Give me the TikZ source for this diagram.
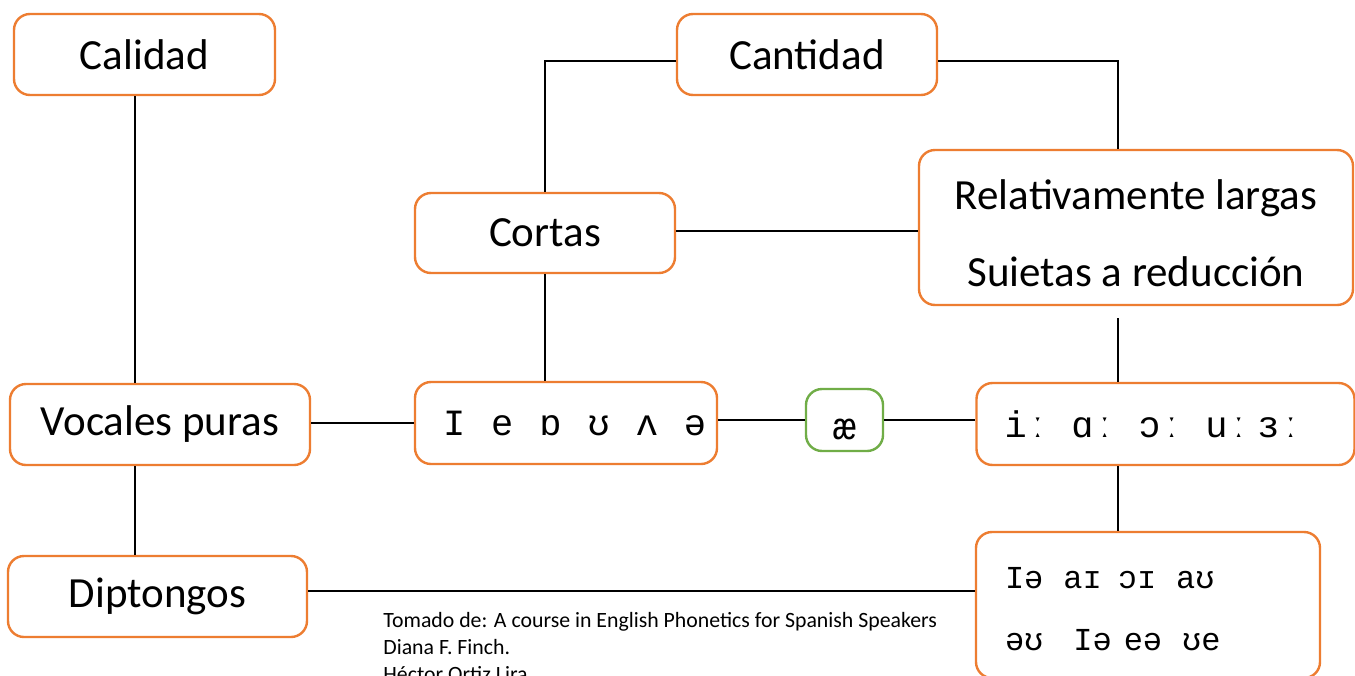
\documentclass[tikz,border=0pt]{standalone}
\usepackage{fontspec}
\setmainfont{Carlito}
\newfontfamily\ipafont{Liberation Mono}
\usetikzlibrary{positioning}

\definecolor{boxorange}{HTML}{ED7D31}
\definecolor{boxgreen}{HTML}{70AD47}

\tikzset{
  box/.style={draw=boxorange, line width=1.2pt, rounded corners=8pt, fill=white,
    font=\fontsize{21.5}{26}\selectfont, align=center, inner sep=0pt},
  ipabox/.style={box, font=\ipafont\fontsize{18.5}{22}\selectfont, align=left, inner xsep=14pt},
  link/.style={line width=1pt, black}
}
\newcommand{\gp}[1]{\hspace{#1pt}}

\begin{document}
\begin{tikzpicture}[x=0.5pt, y=-0.5pt]
    % Frame of the page
    \clip (0,0) rectangle (1355,675);
    \fill[white] (0,0) rectangle (1355,675);

    % Upper boxes
    \node[box, minimum width=130.5pt, minimum height=40.5pt] (calidad) at (144.5,54.5) {Calidad};
    \node[box, minimum width=130pt, minimum height=40.5pt] (cantidad) at (807,54.5) {Cantidad};
    \node[box, minimum width=130pt, minimum height=40pt] (cortas) at (545,233) {Cortas};
    \node[box, minimum width=217pt, minimum height=77.5pt] (largas) at (1136,227.5)
        {\raisebox{-10pt}[0pt][0pt]{\begin{tabular}{@{}c@{}}Relativamente largas\\[12.5pt]Suietas a reducción\end{tabular}}};

    % Middle row
    \node[box, minimum width=150pt, minimum height=40.5pt] (puras) at (160,424.5) {Vocales puras};
    \node[ipabox, text width=123pt, minimum height=41pt] (cortasipa) at (566,423)
        {\mbox{I\gp{13}e\gp{13}ɒ\gp{13}ʊ\gp{13}ʌ\gp{13}ə}};
    \node[box, draw=boxgreen, font=\ipafont\fontsize{19}{22}\selectfont,
        minimum width=38.5pt, minimum height=31pt] (ae) at (844.5,420) {\raisebox{-6pt}[7pt][0pt]{æ}};
    \node[ipabox, text width=161pt, minimum height=41pt] (largasipa) at (1165.5,424)
        {\mbox{iː\gp{11.3}ɑː\gp{11.3}ɔː\gp{11.3}uː\gp{3.8}ɜː}};

    % Bottom row
    \node[box, minimum width=149.5pt, minimum height=40.5pt] (diptongos) at (157.5,596.5) {Diptongos};
    \node[ipabox, font=\ipafont\fontsize{16}{19}\selectfont, text width=143pt, inner xsep=14.5pt,
        minimum height=73pt] (diptipa) at (1148,605)
        {\raisebox{-8pt}[0pt][0pt]{\begin{tabular}{@{}l@{}}Iə\gp{10}aɪ\gp{8}ɔɪ\gp{10}aʊ\\[12pt]əʊ\gp{15}Iə\gp{6}eə\gp{10}ʊe\end{tabular}}};

    % Spines for the vertical connectors
    \coordinate (lspine) at (135,0);
    \coordinate (rspine) at (1118,0);

    % Connectors
    \draw[link] (lspine |- calidad.south) -- (lspine |- puras.north);
    \draw[link] (lspine |- puras.south) -- (lspine |- diptongos.north);
    \draw[link] ([yshift=1pt]puras.east) -- ([yshift=1pt]puras.east -| cortasipa.west);
    \draw[link] (ae.west -| cortasipa.east) -- (ae.west);
    \draw[link] (ae.east) -- (ae.east -| largasipa.west);
    \draw[link] (cortas.south) -- (cortas.south |- cortasipa.north);
    \draw[link] (cortas.north) |- ([yshift=-3pt]cantidad.west);
    \draw[link] ([yshift=-3pt]cantidad.east) -| (rspine |- largas.north);
    \draw[link] ([yshift=1pt]cortas.east) -- ([yshift=1pt]cortas.east -| largas.west);
    \draw[link] ([yshift=-6pt]rspine |- largas.south) -- (rspine |- largasipa.north);
    \draw[link] (rspine |- largasipa.south) -- (rspine |- diptipa.north);
    \draw[link] ([yshift=3pt]diptongos.east) -- ([yshift=3pt]diptongos.east -| diptipa.west);

    % Source note
    \node[font=\fontsize{10.9}{13.5}\selectfont, align=left, anchor=north west, inner sep=0pt] (fuente) at (383,612)
        {Tomado de: A course in English Phonetics for Spanish Speakers\\Diana F. Finch.\\Héctor Ortiz Lira};
\end{tikzpicture}
\end{document}
